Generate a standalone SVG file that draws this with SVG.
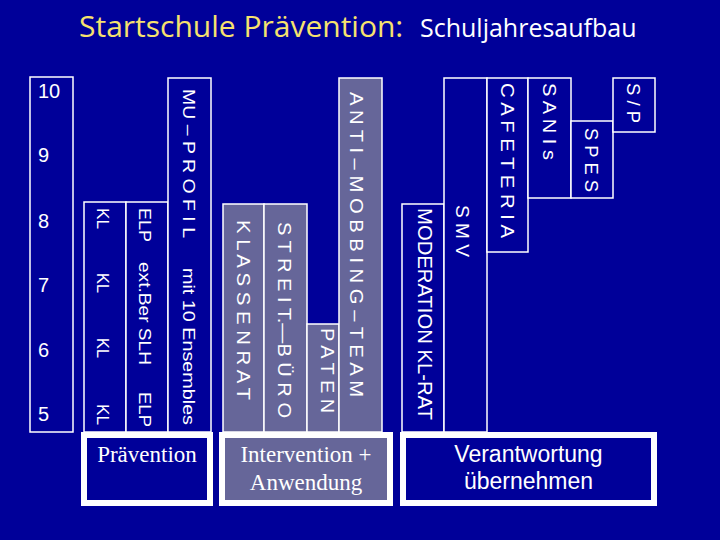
<svg xmlns="http://www.w3.org/2000/svg" width="720" height="540" viewBox="0 0 720 540">
<defs>
<style>
.bg{fill:#000099}
.col{fill:#000099;stroke:#ffffff;stroke-width:1.5}
.colg{fill:#666699;stroke:#ffffff;stroke-width:1.5}
.box{fill:#000099;stroke:#ffffff;stroke-width:6}
.boxg{fill:#666699;stroke:#ffffff;stroke-width:6}
.v{font-family:"Liberation Sans",Arial,sans-serif;fill:#ffffff}
.num{font-family:"Liberation Sans",Arial,sans-serif;font-size:20px;fill:#ffffff}
.serif{font-family:"Liberation Serif","Times New Roman",serif;font-size:23px;fill:#ffffff;text-anchor:middle}
.sans{font-family:"Liberation Sans",Arial,sans-serif;font-size:23px;fill:#ffffff;text-anchor:middle}
</style>
</defs>
<rect class="bg" x="0" y="0" width="720" height="540"/>
<g id="title">
<text x="79" y="37" font-family="'Open Sans','DejaVu Sans',sans-serif" font-size="30" fill="#F6E26E">Startschule Prävention:</text>
<text x="420" y="37" font-family="'Open Sans','DejaVu Sans',sans-serif" font-size="25" fill="#ffffff">Schuljahresaufbau</text>
</g>
<g id="grades">
<rect class="col" x="30" y="77" width="43" height="355"/>
<text class="num" x="38" y="98">10</text>
<text class="num" x="38" y="162">9</text>
<text class="num" x="38" y="228">8</text>
<text class="num" x="38" y="292">7</text>
<text class="num" x="38" y="357">6</text>
<text class="num" x="38" y="421">5</text>
</g>
<g id="kl">
<rect class="col" x="84" y="202" width="42" height="230"/>
<g class="v" font-size="16">
<text transform="translate(96.5,208) rotate(90)" textLength="21" lengthAdjust="spacingAndGlyphs">KL</text>
<text transform="translate(96.5,273) rotate(90)" textLength="20" lengthAdjust="spacingAndGlyphs">KL</text>
<text transform="translate(96.5,338) rotate(90)" textLength="20" lengthAdjust="spacingAndGlyphs">KL</text>
<text transform="translate(96.5,404) rotate(90)" textLength="21" lengthAdjust="spacingAndGlyphs">KL</text>
</g>
</g>
<g id="elp">
<rect class="col" x="126" y="202" width="42" height="230"/>
<g class="v" font-size="16">
<text transform="translate(138.5,208) rotate(90)" textLength="34" lengthAdjust="spacingAndGlyphs">ELP</text>
<text transform="translate(138.5,262) rotate(90)" textLength="103" lengthAdjust="spacingAndGlyphs">ext.Ber SLH</text>
<text transform="translate(138.5,392) rotate(90)" textLength="35" lengthAdjust="spacingAndGlyphs">ELP</text>
</g>
</g>
<g id="mu-profil">
<rect class="col" x="168" y="78" width="43" height="354"/>
<g class="v" font-size="16">
<text transform="translate(182.5,89) rotate(90)" textLength="149" lengthAdjust="spacingAndGlyphs">MU – P R O F I L</text>
<text transform="translate(182.5,268) rotate(90)" textLength="157" lengthAdjust="spacingAndGlyphs">mit 10 Ensembles</text>
</g>
</g>
<g id="klassenrat">
<rect class="colg" x="223" y="204" width="41" height="228"/>
<text class="v" font-size="18" transform="translate(237,220) rotate(90)" textLength="180" lengthAdjust="spacingAndGlyphs">K L A S S E N R A T</text>
</g>
<g id="streitbuero">
<rect class="colg" x="264" y="204" width="43" height="228"/>
<text class="v" font-size="18" transform="translate(278,222) rotate(90)" textLength="196" lengthAdjust="spacingAndGlyphs">S T R E I T.—B Ü R O</text>
</g>
<g id="paten">
<rect class="colg" x="307" y="324" width="32" height="108"/>
<text class="v" font-size="18" transform="translate(321,328) rotate(90)" textLength="85" lengthAdjust="spacingAndGlyphs">P A T E N</text>
</g>
<g id="anti-mobbing">
<rect class="colg" x="339" y="78" width="43" height="354"/>
<text class="v" font-size="18" transform="translate(349.5,92) rotate(90)" textLength="305" lengthAdjust="spacingAndGlyphs">A N T I – M O B B I N G – T E A M</text>
</g>
<g id="moderation">
<rect class="col" x="402" y="204" width="42" height="228"/>
<text class="v" font-size="20" transform="translate(418,208) rotate(90)" textLength="212" lengthAdjust="spacingAndGlyphs">MODERATION KL-RAT</text>
</g>
<g id="smv">
<rect class="col" x="444" y="78" width="43" height="354"/>
<text class="v" font-size="19" transform="translate(456,205) rotate(90)" textLength="52" lengthAdjust="spacingAndGlyphs">S M V</text>
</g>
<g id="cafeteria">
<rect class="col" x="487" y="78" width="41" height="174"/>
<text class="v" font-size="19" transform="translate(500.5,83) rotate(90)" textLength="155" lengthAdjust="spacingAndGlyphs">C A F E T E R I A</text>
</g>
<g id="sanis">
<rect class="col" x="528" y="78" width="43" height="120"/>
<text class="v" font-size="19" transform="translate(543,83) rotate(90)" textLength="77" lengthAdjust="spacingAndGlyphs">S A N I s</text>
</g>
<g id="spes">
<rect class="col" x="571" y="121" width="42" height="77"/>
<text class="v" font-size="19" transform="translate(585,128) rotate(90)" textLength="64" lengthAdjust="spacingAndGlyphs">S P E S</text>
</g>
<g id="sp">
<rect class="col" x="613" y="78" width="42" height="54"/>
<text class="v" font-size="19" transform="translate(627,83) rotate(90)" textLength="40" lengthAdjust="spacingAndGlyphs">S / P</text>
</g>
<g id="praevention">
<rect class="box" x="84" y="435" width="126" height="68"/>
<text class="serif" x="147" y="462">Prävention</text>
</g>
<g id="intervention">
<rect class="boxg" x="222" y="435" width="168" height="68"/>
<text class="serif" x="306" y="462">Intervention +</text>
<text class="serif" x="306" y="490">Anwendung</text>
</g>
<g id="verantwortung">
<rect class="box" x="403" y="435" width="251" height="68"/>
<text class="sans" x="528.5" y="462">Verantwortung</text>
<text class="sans" x="528.5" y="489">übernehmen</text>
</g>
</svg>
